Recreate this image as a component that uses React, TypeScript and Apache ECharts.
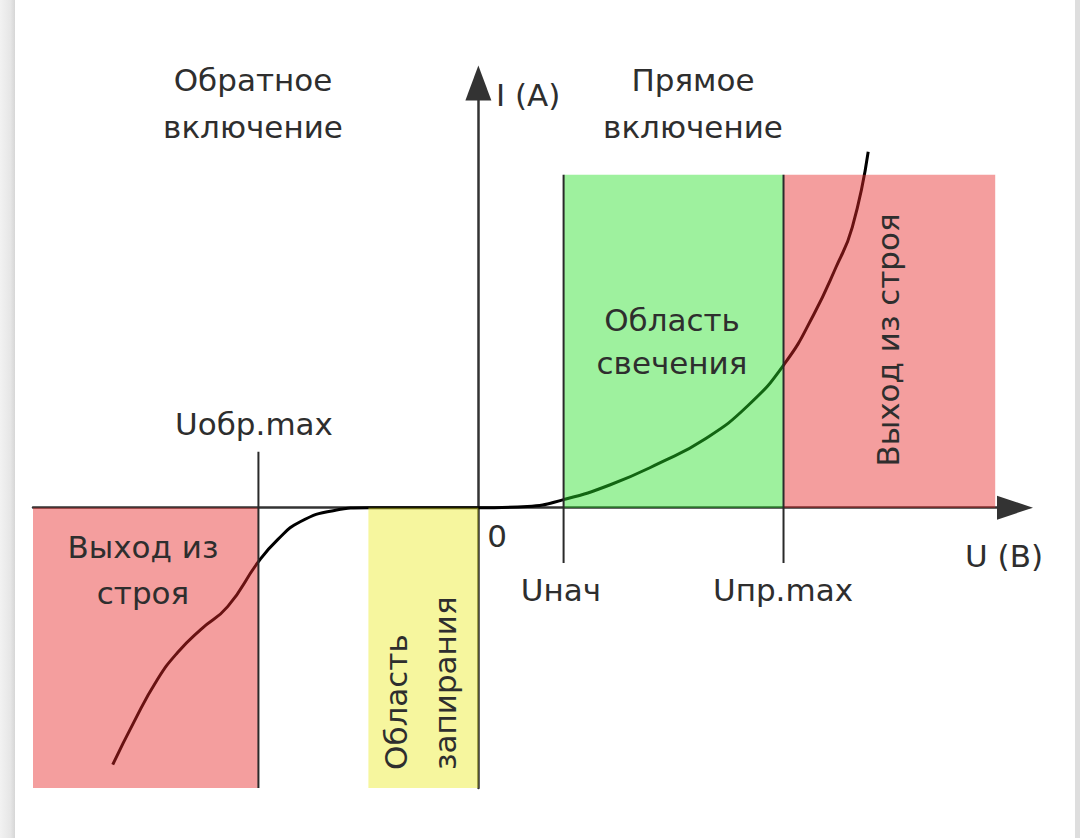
import React, { useEffect, useRef } from "react";
import * as echarts from "echarts";

// Axis ranges (arbitrary schematic units)
const xRange = [-8.1, 9.76];
const yRange = [-6.6, 10];

// I-V curve of the LED: [U, I]
const curveU = [-6.65, -6.27, -5.84, -5.47, -5.05, -4.56, -4.0, -3.65, -3.24, -2.64, -2.0, -1.0, 0, 0.89, 1.55, 2.4, 3.31, 4.1, 4.9, 5.58, 6.1, 6.5, 6.8, 7.09];
const curveI = [-6.05, -5.06, -4.05, -3.41, -2.87, -2.33, -1.27, -0.75, -0.33, -0.07, 0, 0, 0, 0.03, 0.19, 0.54, 1.06, 1.6, 2.4, 3.41, 4.55, 5.65, 6.6, 8.38];

// Zones (shaded regions)
const zoneNames = ["Выход из строя (обр.)", "Область запирания", "Область свечения", "Выход из строя (пр.)"];
const zoneU0 = [-8.1, -2, 1.55, 5.55];
const zoneU1 = [-4, 0, 5.55, 9.4];
const zoneI0 = [-6.6, -6.6, 0, 0];
const zoneI1 = [0, 0, 7.84, 7.84];
const zoneColors = ["rgba(230,40,40,0.45)", "rgba(236,236,40,0.45)", "rgba(40,225,40,0.45)", "rgba(230,40,40,0.45)"];

// Marker lines: Uобр.max, Uнач, Uпр.max
const markerU = [-4, 1.55, 5.55];
const markerILow = [-6.6, -1.3, -1.3];
const markerIHigh = [1.32, 7.84, 7.84];

const FONT = "DejaVu Sans";
const TXT = "#2e2e2e";

export default function App() {
  const ref = useRef<HTMLDivElement>(null);
  useEffect(() => {
    if (!ref.current) return;
    const chart = echarts.init(ref.current, undefined, { renderer: "svg" });
    const txt = (text: string, x: number, y: number, extra: any = {}) => ({
      type: "text",
      x,
      y,
      z: 100,
      rotation: extra.rotation || 0,
      style: {
        text,
        fontFamily: FONT,
        fontSize: extra.fontSize || 31,
        fill: TXT,
        align: extra.align || "center",
        verticalAlign: "middle",
      },
    });
    chart.setOption({
      animation: false,
      backgroundColor: "#ffffff",
      grid: { left: 33, right: 65, top: 83, bottom: 50 },
      xAxis: {
        type: "value",
        min: xRange[0],
        max: xRange[1],
        axisLine: {
          onZero: true,
          symbol: ["none", "triangle"],
          symbolSize: [24, 36],
          lineStyle: { color: "#333333", width: 2.5 },
        },
        axisTick: { show: false },
        axisLabel: { show: false },
        splitLine: { show: false },
      },
      yAxis: {
        type: "value",
        min: yRange[0],
        max: yRange[1],
        axisLine: {
          onZero: true,
          symbol: ["none", "triangle"],
          symbolSize: [26, 35],
          lineStyle: { color: "#333333", width: 2.5 },
        },
        axisTick: { show: false },
        axisLabel: { show: false },
        splitLine: { show: false },
      },
      series: [
        {
          type: "line",
          name: "ВАХ",
          z: 2,
          smooth: 0.5,
          showSymbol: false,
          symbol: "none",
          lineStyle: { color: "#000000", width: 3 },
          data: curveU.map((u, i) => [u, curveI[i]]),
        },
        {
          type: "custom",
          name: "zones",
          z: 3,
          clip: false,
          encode: { x: [0, 1], y: [2, 3] },
          data: zoneNames.map((_, i) => [zoneU0[i], zoneU1[i], zoneI0[i], zoneI1[i]]),
          renderItem: (params: any, api: any) => {
            const p0 = api.coord([api.value(0), api.value(3)]);
            const p1 = api.coord([api.value(1), api.value(2)]);
            return {
              type: "rect",
              shape: { x: p0[0], y: p0[1], width: p1[0] - p0[0], height: p1[1] - p0[1] },
              style: { fill: zoneColors[params.dataIndex] },
            };
          },
        },
        {
          type: "custom",
          name: "markers",
          z: 4,
          clip: false,
          encode: { x: 0, y: [1, 2] },
          data: markerU.map((u, i) => [u, markerILow[i], markerIHigh[i]]),
          renderItem: (params: any, api: any) => {
            const p0 = api.coord([api.value(0), api.value(1)]);
            const p1 = api.coord([api.value(0), api.value(2)]);
            return {
              type: "line",
              shape: { x1: p0[0], y1: p0[1], x2: p1[0], y2: p1[1] },
              style: { stroke: "#2a2a2a", lineWidth: 2 },
            };
          },
        },
      ],
      graphic: [
        {
          type: "rect",
          z: 100,
          shape: { x: 0, y: 0, width: 15, height: 838 },
          style: {
            fill: new echarts.graphic.LinearGradient(0, 0, 1, 0, [
              { offset: 0, color: "#f2f2f2" },
              { offset: 0.7, color: "#e6e6e6" },
              { offset: 1, color: "#d6d6d6" },
            ]),
          },
        },
        {
          type: "rect",
          z: 100,
          shape: { x: 1075, y: 0, width: 5, height: 838 },
          style: { fill: "#dedede" },
        },
        txt("Обратное", 253, 80),
        txt("включение", 253, 127),
        txt("Прямое", 693, 80),
        txt("включение", 693, 127),
        txt("I (A)", 496, 95, { align: "left" }),
        txt("Uобр.max", 254, 424),
        txt("Выход из", 143, 547),
        txt("строя", 143, 593),
        txt("0", 497, 536),
        txt("Uнач", 561, 590),
        txt("Uпр.max", 783, 590),
        txt("U (B)", 1004, 556),
        txt("Область", 672, 320),
        txt("свечения", 672, 363),
        txt("Выход из строя", 888, 340, { rotation: Math.PI / 2 }),
        txt("Область", 396, 770, { rotation: Math.PI / 2, align: "left" }),
        txt("запирания", 445, 770, { rotation: Math.PI / 2, align: "left" }),
      ],
    });
    return () => chart.dispose();
  }, []);
  return (
    <div
      ref={ref}
      style={{ position: "fixed", left: 0, top: 0, width: 1080, height: 838, background: "#fff" }}
    />
  );
}
